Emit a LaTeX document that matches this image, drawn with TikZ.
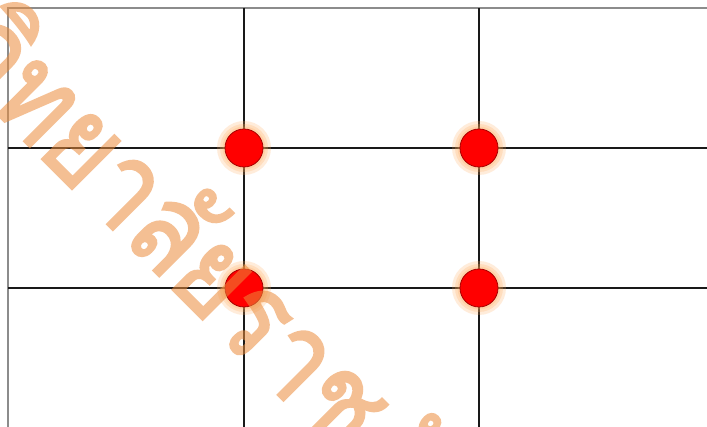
\documentclass[tikz,border=0pt]{standalone}
\usepackage{fontspec}
\newfontfamily\thaifont[Script=Thai, FakeBold=2.0]{Loma}
\definecolor{wmcolor}{RGB}{236,140,60}
\definecolor{glowcolor}{RGB}{255,170,90}
\begin{document}
\begin{tikzpicture}[x=1pt,y=-1pt,
  frameline/.style={draw=black!45, line width=1.6pt},
  gridline/.style={draw=black!90, line width=2pt},
  glowring/.style={circle, fill=glowcolor, fill opacity=0.22, minimum size=#1, inner sep=0pt},
  reddot/.style={circle, fill=red, draw=red!65!black, line width=0.8pt, minimum size=38pt, inner sep=0pt},
  wmtext/.style={text=wmcolor, font=\thaifont\fontsize{122}{122}\selectfont, rotate=-45, xscale=0.86, inner sep=0pt}
]
\useasboundingbox (0,0) rectangle (707,427);
\clip (0,0) rectangle (707,427);
\fill[white] (0,0) rectangle (707,427);
% frame
\draw[frameline] (8,8) rectangle (714,428);
% grid
\draw[gridline] (244,8) -- (244,428);
\draw[gridline] (479,8) -- (479,428);
\draw[gridline] (8,148) -- (714,148);
\draw[gridline] (8,288) -- (714,288);
% dots
\foreach \n/\px/\py in {d1/244/148, d2/479/148, d3/244/288, d4/479/288}{
  \node[glowring=54pt] at (\px,\py) {};
  \node[glowring=48pt] at (\px,\py) {};
  \node[glowring=43pt] at (\px,\py) {};
  \node[reddot] (\n) at (\px,\py) {};
}
% watermark
\begin{scope}[transparency group, opacity=0.55]
\coordinate (wp) at (209,326);
\node[wmtext, anchor=base east] (wm1) at (wp) {มหาวิทยาลัย};
\node[wmtext, anchor=base west] (wm2) at (wp) {ราชภัฏ};
\end{scope}
\end{tikzpicture}
\end{document}
